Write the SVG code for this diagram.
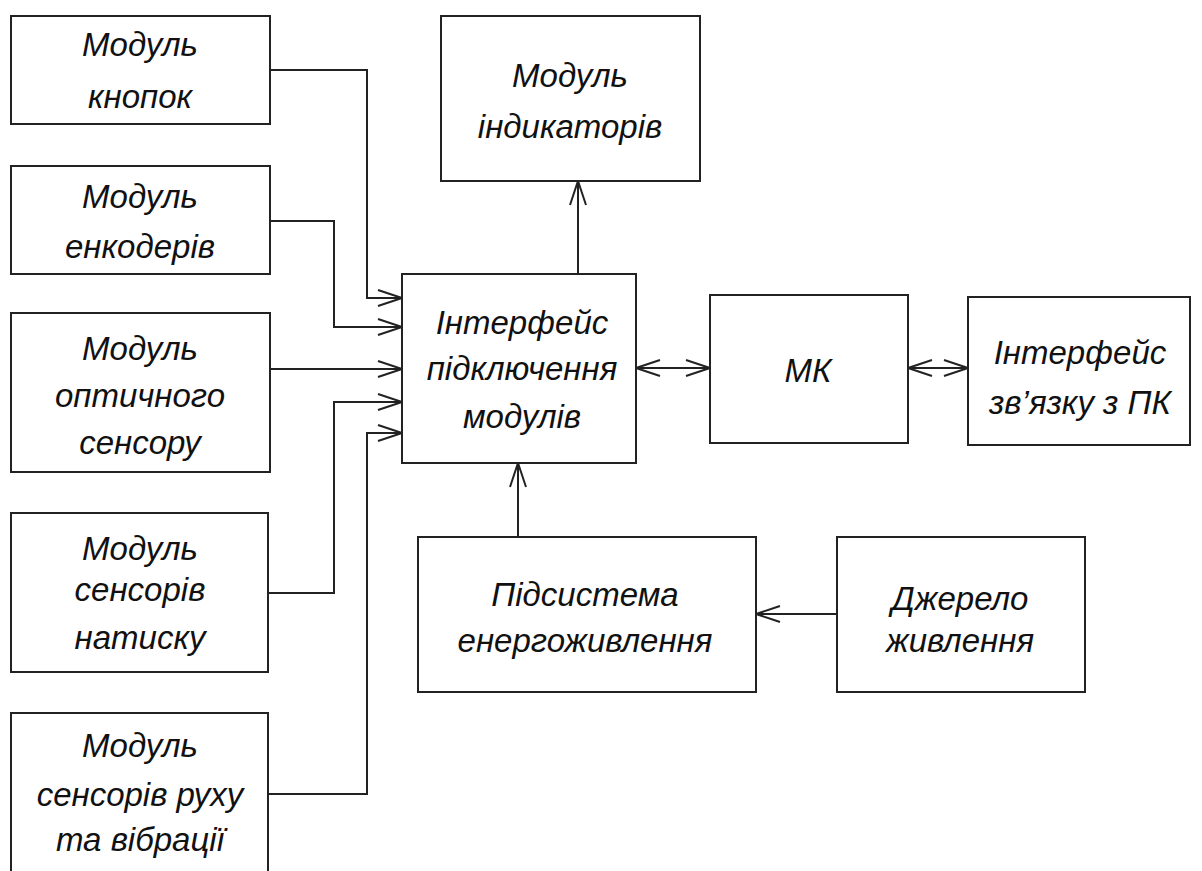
<svg xmlns="http://www.w3.org/2000/svg" width="1202" height="871" viewBox="0 0 1202 871">
<defs>
<style>
.box{fill:#fff;stroke:#222;stroke-width:2}
.t{font-family:"Liberation Sans","DejaVu Sans",sans-serif;font-style:italic;font-size:33px;fill:#111;text-anchor:middle}
.c{fill:none;stroke:#222;stroke-width:2}
</style>
<marker id="ah" viewBox="0 0 26 18" refX="25" refY="9" markerWidth="26" markerHeight="18" markerUnits="userSpaceOnUse" orient="auto-start-reverse">
<path d="M1,1 L25,9 L1,17" fill="none" stroke="#222" stroke-width="2"/>
</marker>
</defs>
<rect width="1202" height="871" fill="#fff"/>
<g id="connectors">
<polyline class="c" points="270,70 367,70 367,298 402,298" marker-end="url(#ah)"/>
<polyline class="c" points="270,221 334,221 334,327 402,327" marker-end="url(#ah)"/>
<polyline class="c" points="270,369 402,369" marker-end="url(#ah)"/>
<polyline class="c" points="268,593 334,593 334,402 402,402" marker-end="url(#ah)"/>
<polyline class="c" points="268,794 367,794 367,433 402,433" marker-end="url(#ah)"/>
<polyline class="c" points="578,274 578,181" marker-end="url(#ah)"/>
<polyline class="c" points="636,368 710,368" marker-start="url(#ah)" marker-end="url(#ah)"/>
<polyline class="c" points="908,368 968,368" marker-start="url(#ah)" marker-end="url(#ah)"/>
<polyline class="c" points="518,537 518,463" marker-end="url(#ah)"/>
<polyline class="c" points="837,614 756,614" marker-end="url(#ah)"/>
</g>
<g id="buttons">
<rect class="box" x="11" y="16" width="259" height="108"/>
<text class="t" x="140" y="56">Модуль</text>
<text class="t" x="140" y="108">кнопок</text>
</g>
<g id="encoders">
<rect class="box" x="11" y="166" width="259" height="108"/>
<text class="t" x="140" y="208">Модуль</text>
<text class="t" x="140" y="258">енкодерів</text>
</g>
<g id="optical">
<rect class="box" x="11" y="313" width="259" height="159"/>
<text class="t" x="140" y="360">Модуль</text>
<text class="t" x="140" y="407">оптичного</text>
<text class="t" x="140" y="454">сенсору</text>
</g>
<g id="pressure">
<rect class="box" x="11" y="513" width="257" height="159"/>
<text class="t" x="140" y="560">Модуль</text>
<text class="t" x="140" y="601">сенсорів</text>
<text class="t" x="140" y="649">натиску</text>
</g>
<g id="motion">
<rect class="box" x="11" y="713" width="257" height="170"/>
<text class="t" x="140" y="757">Модуль</text>
<text class="t" x="140" y="806">сенсорів руху</text>
<text class="t" x="140" y="851">та вібрації</text>
</g>
<g id="indicators">
<rect class="box" x="441" y="16" width="259" height="165"/>
<text class="t" x="570" y="87">Модуль</text>
<text class="t" x="570" y="138">індикаторів</text>
</g>
<g id="interface">
<rect class="box" x="402" y="274" width="234" height="189"/>
<text class="t" x="522" y="334">Інтерфейс</text>
<text class="t" x="522" y="380">підключення</text>
<text class="t" x="522" y="428">модулів</text>
</g>
<g id="mk">
<rect class="box" x="710" y="295" width="198" height="148"/>
<text class="t" x="808" y="382">МК</text>
</g>
<g id="pc">
<rect class="box" x="968" y="297" width="222" height="148"/>
<text class="t" x="1080" y="364">Інтерфейс</text>
<text class="t" x="1080" y="414">зв’язку з ПК</text>
</g>
<g id="power">
<rect class="box" x="418" y="537" width="338" height="155"/>
<text class="t" x="585" y="606">Підсистема</text>
<text class="t" x="585" y="652">енергоживлення</text>
</g>
<g id="source">
<rect class="box" x="837" y="537" width="248" height="155"/>
<text class="t" x="960" y="610">Джерело</text>
<text class="t" x="960" y="652">живлення</text>
</g>
</svg>
